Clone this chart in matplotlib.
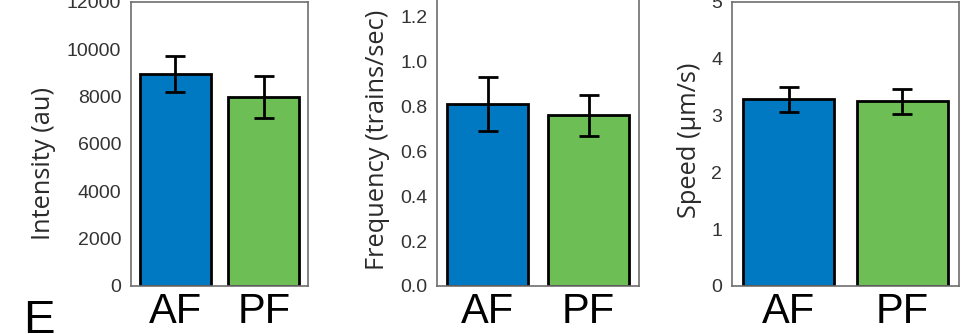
import matplotlib
matplotlib.use("Agg")
import matplotlib.pyplot as plt

categories = ["AF", "PF"]
colors = ["#0079c2", "#6dbf55"]

intensity_mean = [8960, 7990]
intensity_err = [770, 900]

freq_mean = [0.81, 0.76]
freq_err = [0.12, 0.09]

speed_mean = [3.29, 3.25]
speed_err = [0.22, 0.22]

yticks1 = [0, 2000, 4000, 6000, 8000, 10000, 12000]
yticks2 = [0.0, 0.2, 0.4, 0.6, 0.8, 1.0, 1.2]
yticks3 = [0, 1, 2, 3, 4, 5]

W, H = 967, 334
plt.rcParams['font.family'] = ['Liberation Sans', 'DejaVu Sans']
fig = plt.figure(figsize=(W / 100, H / 100), dpi=100)

panels = [
    # left, right, top(px from top), ylim, means, errs, ticks, fmt, label, label x, label y
    (131, 308, 2, (0, 12000), intensity_mean, intensity_err, yticks1, "{:d}", "Intensity (au)", 56, 164),
    (437, 639, 286 - 1.4 * 224.5, (0, 1.4), freq_mean, freq_err, yticks2, "{:.1f}", "Frequency (trains/sec)", 390, 140),
    (732, 959, 2, (0, 5), speed_mean, speed_err, yticks3, "{:d}", "Speed (\u00b5m/s)", 702, 140),
]

bottom_px = 286
for left, right, top, ylim, means, errs, ticks, fmt, label, lx, ly in panels:
    ax = fig.add_axes([left / W, (H - bottom_px) / H, (right - left) / W, (bottom_px - top) / H])
    x = list(range(len(categories)))
    ax.bar(x, means, width=0.8, color=colors, edgecolor="black", linewidth=2.0, zorder=2)
    ax.errorbar(x, means, yerr=errs, fmt="none", ecolor="black", elinewidth=2.0,
                capsize=7, capthick=2.0, zorder=3)
    ax.set_xlim(-0.5, 1.5)
    ax.set_ylim(*ylim)
    ax.set_yticks(ticks)
    ax.set_yticklabels([fmt.format(t) for t in ticks], fontsize=14, color="#333333")
    ax.set_xticks(x)
    ax.set_xticklabels(categories, fontsize=30, color="black")
    ax.tick_params(axis="both", length=0)
    ax.tick_params(axis="y", pad=7)
    ax.tick_params(axis="x", pad=4)
    for s in ax.spines.values():
        s.set_color("#6e6e6e")
        s.set_linewidth(1.2)
    ax.set_ylabel(label, fontsize=18.3, color="#2a2a2a", family=["Open Sans", "DejaVu Sans"])
    ax.yaxis.set_label_coords(lx / W, 1 - ly / H, transform=fig.transFigure)

fig.text(23 / W, 1 - 333 / H, "E", fontsize=34, color="black", ha="left", va="baseline")

fig.savefig("out.png", dpi=100)
